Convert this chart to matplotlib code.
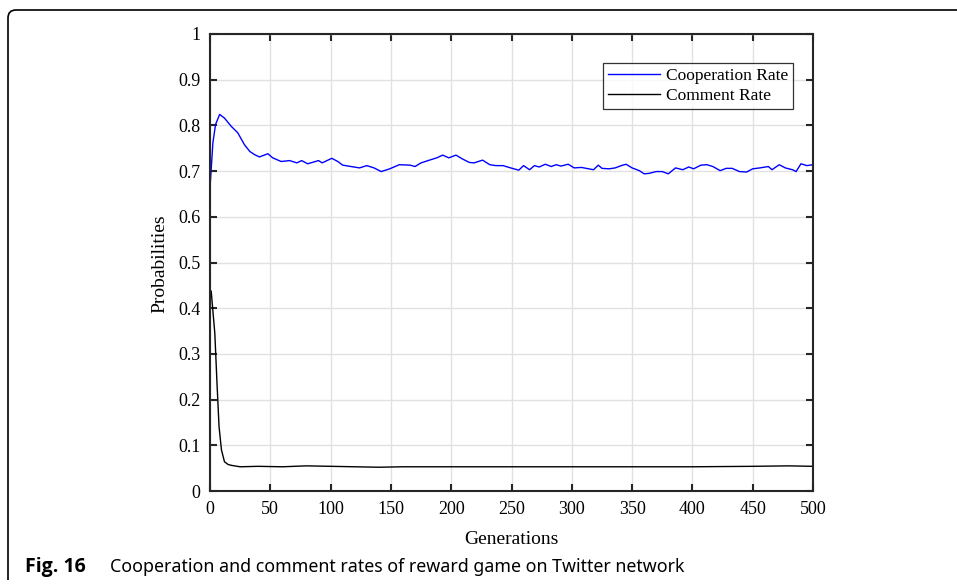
import matplotlib
matplotlib.use("Agg")
import matplotlib.pyplot as plt
from matplotlib.path import Path
from matplotlib.patches import PathPatch

plt.rcParams['font.family'] = ['Liberation Serif', 'DejaVu Serif']

# data
gen_coop = [0, 2.4, 4.6, 8, 12, 17.6, 23, 28.5, 33, 37, 41, 48, 52, 59, 66, 72, 76, 81, 90, 93,
            101, 106, 110, 117, 124, 130, 136, 142, 149, 157, 166, 170, 175, 182, 188, 193, 198,
            204, 209, 215, 219, 226, 232, 237, 243, 248, 252, 256, 260, 265, 269, 273, 278, 283,
            287, 291, 297, 302, 308, 314, 318, 322, 325, 331, 336, 341, 345, 350, 356, 360, 364,
            370, 375, 380, 386, 392, 397, 401, 407, 412, 417, 423, 428, 433, 439, 445, 450, 456,
            463, 466, 472, 477, 483, 486, 490, 495, 500]
coop_rate = [0.663, 0.762, 0.802, 0.824, 0.816, 0.798, 0.784, 0.758, 0.743, 0.736, 0.731, 0.738,
             0.729, 0.721, 0.723, 0.718, 0.723, 0.716, 0.723, 0.718, 0.728, 0.721, 0.713, 0.710,
             0.707, 0.712, 0.707, 0.699, 0.705, 0.714, 0.713, 0.710, 0.718, 0.724, 0.729, 0.735,
             0.729, 0.735, 0.727, 0.719, 0.718, 0.724, 0.714, 0.712, 0.712, 0.708, 0.705, 0.702,
             0.712, 0.703, 0.712, 0.709, 0.715, 0.710, 0.714, 0.711, 0.715, 0.707, 0.708, 0.705,
             0.703, 0.713, 0.706, 0.705, 0.707, 0.712, 0.715, 0.707, 0.701, 0.694, 0.695, 0.699,
             0.699, 0.694, 0.707, 0.703, 0.709, 0.705, 0.713, 0.714, 0.710, 0.701, 0.706, 0.706,
             0.699, 0.698, 0.705, 0.707, 0.710, 0.703, 0.714, 0.707, 0.703, 0.699, 0.716, 0.712,
             0.714]

gen_comment = [0, 1, 4, 5.8, 7.5, 9.5, 12, 15, 18, 25, 40, 60, 80, 100, 120, 140, 160, 200,
               250, 300, 350, 400, 450, 480, 500]
comment_rate = [0.44, 0.437, 0.345, 0.236, 0.141, 0.090, 0.064, 0.058, 0.056, 0.053, 0.054,
                0.053, 0.055, 0.054, 0.053, 0.052, 0.053, 0.053, 0.053, 0.053, 0.053, 0.053,
                0.054, 0.055, 0.054]

W, H = 957, 588
fig = plt.figure(figsize=(W / 100, H / 100), dpi=100)
ax = fig.add_axes([210 / W, 1 - 491 / H, 603 / W, 457 / H])

ax.plot(gen_coop, coop_rate, color='#0000ff', lw=1.0, label='Cooperation Rate')
ax.plot(gen_comment, comment_rate, color='black', lw=1.0, label='Comment Rate')

ax.set_xlim(0, 500)
ax.set_ylim(0, 1)
ax.set_xticks(range(0, 501, 50))
yt = [i / 10 for i in range(11)]
ax.set_yticks(yt)
ax.set_yticklabels(['0', '0.1', '0.2', '0.3', '0.4', '0.5', '0.6', '0.7', '0.8', '0.9', '1'])
ax.grid(True, color='#e1e1e1', lw=1)
ax.set_axisbelow(True)
ax.tick_params(direction='in', length=5, width=1.5, top=True, right=True,
               labelsize=13, pad=7, color='#262626')
for s in ax.spines.values():
    s.set_linewidth(1.5)
    s.set_color('#262626')

leg = ax.legend(loc='upper right', bbox_to_anchor=((793 - 210) / 603, (491 - 63) / 457),
                borderaxespad=0, fontsize=12.5, frameon=True, fancybox=False,
                handlelength=3.0, handletextpad=0.3, borderpad=0.3, labelspacing=0.2)
leg.get_frame().set_edgecolor('black')
leg.get_frame().set_linewidth(0.9)

fig.text((210 + 813) / 2 / W, 1 - 540 / H, 'Generations', ha='center', va='center', fontsize=14)
fig.text(160 / W, 1 - 264 / H, 'Probabilities', ha='center', va='center', fontsize=14,
         rotation=90)

# caption
fig.text(25 / W, 1 - 567 / H, 'Fig. 16', ha='left', va='center', fontsize=14,
         fontweight='bold', family='Open Sans')
fig.text(110 / W, 1 - 567 / H, 'Cooperation and comment rates of reward game on Twitter network',
         ha='left', va='center', fontsize=12.8, family='Noto Sans')

# page frame (top + left edge with rounded corner)
verts = [(8, 580), (8, 18), (8, 10), (16, 10), (W, 10)]
verts = [(x / W, 1 - y / H) for x, y in verts]
codes = [Path.MOVETO, Path.LINETO, Path.CURVE3, Path.CURVE3, Path.LINETO]
fig.patches.append(PathPatch(Path(verts, codes), transform=fig.transFigure,
                             fill=False, lw=1.2, edgecolor='black'))

fig.savefig('out.png', dpi=100)
